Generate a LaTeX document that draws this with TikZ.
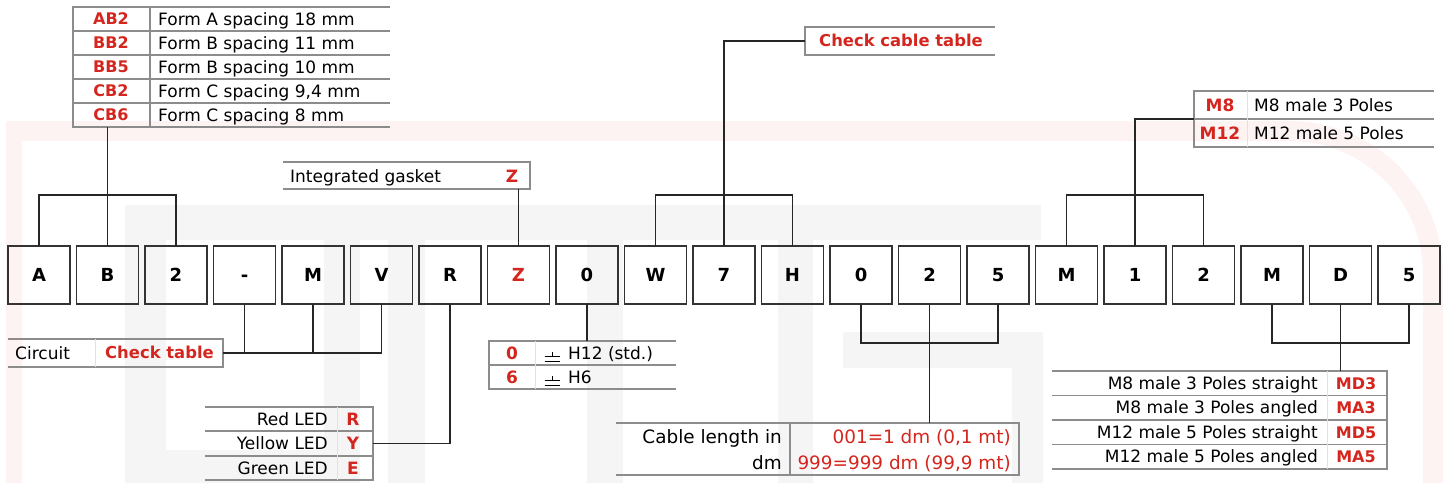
\documentclass[tikz,border=0pt]{standalone}
\usepackage{fontspec}
\setmainfont{DejaVu Sans}
\usetikzlibrary{positioning}

\definecolor{codered}{RGB}{212,38,30}
\definecolor{tablegray}{RGB}{140,140,140}
\definecolor{wmpink}{RGB}{253,243,243}
\definecolor{wmgray}{RGB}{245,245,245}

% earth (ground) sign used in the gasket table
\newcommand{\earthsym}{\tikz[baseline=0pt, x=1pt, y=1pt, line width=1pt, black]{\draw (0,-2.6) -- (15,-2.6) (0,2.4) -- (15,2.4) (7.5,2.4) -- (7.5,7.7);}}

\begin{document}
\begin{tikzpicture}[x=1pt, y=-1pt, node distance=6.5pt,
  pbox/.style={draw=black!80, line width=1.4pt, outer sep=0pt, minimum width=62pt, minimum height=58pt, inner sep=0pt, text height=13.2pt, text depth=0pt, font=\fontsize{18}{20}\selectfont\bfseries},
  link/.style={draw=black!85, line width=1.3pt},
  tabline/.style={draw=tablegray, line width=1.5pt},
  faintline/.style={draw=tablegray!25, line width=1pt},
  tabframe/.style={inner sep=0pt, outer sep=0pt},
  txt/.style={inner sep=0pt, text height=12.4pt, text depth=0pt, font=\fontsize{17}{20}\selectfont},
  bigtxt/.style={inner sep=0pt, text height=13.4pt, text depth=0pt, font=\fontsize{18.4}{20}\selectfont},
  code/.style={inner sep=0pt, text height=11.6pt, text depth=0pt, text=codered, font=\fontsize{16}{20}\selectfont\bfseries},
  bigcode/.style={code, text height=12.4pt, font=\fontsize{17}{20}\selectfont\bfseries}]
\useasboundingbox (0,0) rectangle (1447,483);

% faint logo in the background
\fill[wmpink] (6,121) -- (1290,121) arc[start angle=270, end angle=360, radius=153] -- (1443,483) -- (1423,483)
  -- (1423,274) arc[start angle=0, end angle=-90, radius=133] -- (22,141) -- (22,483) -- (6,483) -- cycle;
\fill[wmgray] (125,205) rectangle (1041,240) (125,205) rectangle (166,483) (166,450) rectangle (325,483)
  (324,240) rectangle (360,483) (388,240) rectangle (425,483) (587,240) rectangle (623,483)
  (778,240) rectangle (813,483) (843,332) rectangle (1043,368) (1012,332) rectangle (1043,483);

% code positions
\node[pbox] (p1) at (39,275) {A};
\node[pbox, right=of p1] (p2) {B};
\node[pbox, right=of p2] (p3) {2};
\node[pbox, right=of p3] (p4) {-};
\node[pbox, right=of p4] (p5) {M};
\node[pbox, right=of p5] (p6) {V};
\node[pbox, right=of p6] (p7) {R};
\node[pbox, right=of p7, text=codered] (p8) {Z};
\node[pbox, right=of p8] (p9) {0};
\node[pbox, right=of p9] (p10) {W};
\node[pbox, right=of p10] (p11) {7};
\node[pbox, right=of p11] (p12) {H};
\node[pbox, right=of p12] (p13) {0};
\node[pbox, right=of p13] (p14) {2};
\node[pbox, right=of p14] (p15) {5};
\node[pbox, right=of p15] (p16) {M};
\node[pbox, right=of p16] (p17) {1};
\node[pbox, right=of p17] (p18) {2};
\node[pbox, right=of p18] (p19) {M};
\node[pbox, right=of p19] (p20) {D};
\node[pbox, right=of p20] (p21) {5};

% spacing table
\node[tabframe, minimum width=317pt, minimum height=120pt, anchor=north west] (spacing) at (73,7) {};
\draw[tabline] (spacing.north east) -- (spacing.north west) -- (spacing.south west) -- (spacing.south east);
\foreach \y in {31,55,79,103} \draw[tabline] (73,\y) -- (390,\y);
\draw[tabline] (150,7) -- (150,127);
\foreach \c/\t [count=\i] in {AB2/Form A spacing 18 mm, BB2/Form B spacing 11 mm, BB5/Form B spacing 10 mm, CB2/{Form C spacing 9,4 mm}, CB6/Form C spacing 8 mm}
{
  \node[code] (spc\i) at (111,{24*\i-5}) {\c};
  \node[txt, anchor=west] (spd\i) at (158,{24*\i-5}) {\t};
}

% gasket
\node[tabframe, minimum width=247pt, minimum height=27pt, anchor=north west] (gasket) at (283,162) {};
\draw[tabline] (gasket.north west) -- (gasket.north east) -- (gasket.south east) -- (gasket.south west);
\node[txt, anchor=west] (gaskett) at (290,176) {Integrated gasket};
\node[bigcode] (gasketc) at (512,176) {Z};

% cable
\node[tabframe, minimum width=190pt, minimum height=28pt, anchor=north west] (cablechk) at (805,27) {};
\draw[tabline] (cablechk.north east) -- (cablechk.north west) -- (cablechk.south west) -- (cablechk.south east);
\node[code, font=\fontsize{16.4}{20}\selectfont\bfseries, anchor=west] (cablechkt) at (819,41) {Check cable table};

% connector size
\node[tabframe, minimum width=240pt, minimum height=56pt, anchor=north west] (conn) at (1194,91) {};
\draw[tabline] (conn.north east) -- (conn.north west) -- (conn.south west) -- (conn.south east);
\draw[tabline] (conn.west) -- (conn.east);
\draw[faintline] (1247,91) -- (1247,147);
\foreach \c/\t [count=\i] in {M8/M8 male 3 Poles, M12/M12 male 5 Poles}
{
  \node[bigcode] (cnc\i) at (1220,{77+28*\i}) {\c};
  \node[txt, anchor=west] (cnd\i) at (1254,{77+28*\i}) {\t};
}

% circuit
\node[tabframe, minimum width=215pt, minimum height=28pt, anchor=north west] (circ) at (8,339) {};
\draw[tabline] (circ.north west) -- (circ.north east) -- (circ.south east) -- (circ.south west);
\draw[faintline] (95,339) -- (95,367);
\node[txt, anchor=west] (circt) at (15,353) {Circuit};
\node[code, font=\fontsize{16.4}{20}\selectfont\bfseries, anchor=west] (circc) at (105,353) {Check table};

% LED
\node[tabframe, minimum width=168pt, minimum height=73pt, anchor=north west] (led) at (205,407) {};
\draw[tabline] (led.north west) -- (led.north east) -- (led.south east) -- (led.south west);
\foreach \y in {431,456} \draw[tabline] (205,\y) -- (373,\y);
\draw[faintline] (337,407) -- (337,480);
\foreach \t/\c [count=\i] in {Red LED/R, Yellow LED/Y, Green LED/E}
{
  \node[txt, anchor=east] (ledt\i) at (328,{394.5+24.5*\i}) {\t};
  \node[bigcode] (ledc\i) at (353,{394.5+24.5*\i}) {\c};
}

% ground
\node[tabframe, minimum width=187pt, minimum height=48pt, anchor=north west] (gnd) at (489,341) {};
\draw[tabline] (gnd.north east) -- (gnd.north west) -- (gnd.south west) -- (gnd.south east);
\draw[tabline] (gnd.west) -- (gnd.east);
\draw[faintline] (535,341) -- (535,389);
\foreach \c/\t [count=\i] in {0/H12 (std.), 6/H6}
{
  \node[bigcode] (gndc\i) at (512,{329+24*\i}) {\c};
  \node[txt, anchor=west] (gndt\i) at (544,{329+24*\i}) {\earthsym\hspace{8pt}\t};
}

% cable length
\node[tabframe, minimum width=403pt, minimum height=52pt, anchor=north west] (cabl) at (616,423) {};
\draw[tabline] (cabl.north west) -- (cabl.north east) -- (cabl.south east) -- (cabl.south west);
\draw[tabline] (790,423) -- (790,475);
\node[bigtxt, anchor=east] (cablt1) at (782,437) {Cable length in};
\node[bigtxt, anchor=east] (cablt2) at (782,463) {dm};
\node[bigtxt, text=codered, anchor=east] (cablv1) at (1011,437) {001=1 dm (0,1 mt)};
\node[bigtxt, text=codered, anchor=east] (cablv2) at (1011,463) {999=999 dm (99,9 mt)};

% connector type
\node[tabframe, minimum width=335pt, minimum height=98pt, anchor=north west] (mdt) at (1052,371) {};
\draw[tabline] (mdt.north west) -- (mdt.north east) -- (mdt.south east) -- (mdt.south west);
\foreach \y in {395.5,420,444.5} \draw[tabline] (1052,\y) -- (1387,\y);
\draw[faintline] (1327,371) -- (1327,469);
\foreach \t/\c [count=\i] in {M8 male 3 Poles straight/MD3, M8 male 3 Poles angled/MA3, M12 male 5 Poles straight/MD5, M12 male 5 Poles angled/MA5}
{
  \node[txt, anchor=east] (mdd\i) at (1318,{358.75+24.5*\i}) {\t};
  \node[code] (mdc\i) at (1356,{358.75+24.5*\i}) {\c};
}

% links
\draw[link] (spacing.south -| p2.north) -- (p2.north);
\draw[link] (p1.north) -- ++(0,-51) -| (p3.north);
\draw[link] (gasket.south -| p8.north) -- (p8.north);
\draw[link] (cablechk.west) -| (p11.north);
\draw[link] (p10.north) -- ++(0,-51) -| (p12.north);
\draw[link] (conn.west) -| (p17.north);
\draw[link] (p16.north) -- ++(0,-51) -| (p18.north);
\draw[link] (circ.east) -| (p6.south);
\draw[link] (p4.south) -- (p4.south |- circ.east);
\draw[link] (p5.south) -- (p5.south |- circ.east);
\draw[link] (led.east) -| (p7.south);
\draw[link] (p9.south) -- (p9.south |- gnd.north);
\draw[link] (p13.south) -- ++(0,39) -| (p15.south);
\draw[link] (p14.south) -- (p14.south |- cabl.north);
\draw[link] (p19.south) -- ++(0,39) -| (p21.south);
\draw[link] (p20.south) -- (p20.south |- mdt.north);
\end{tikzpicture}
\end{document}
